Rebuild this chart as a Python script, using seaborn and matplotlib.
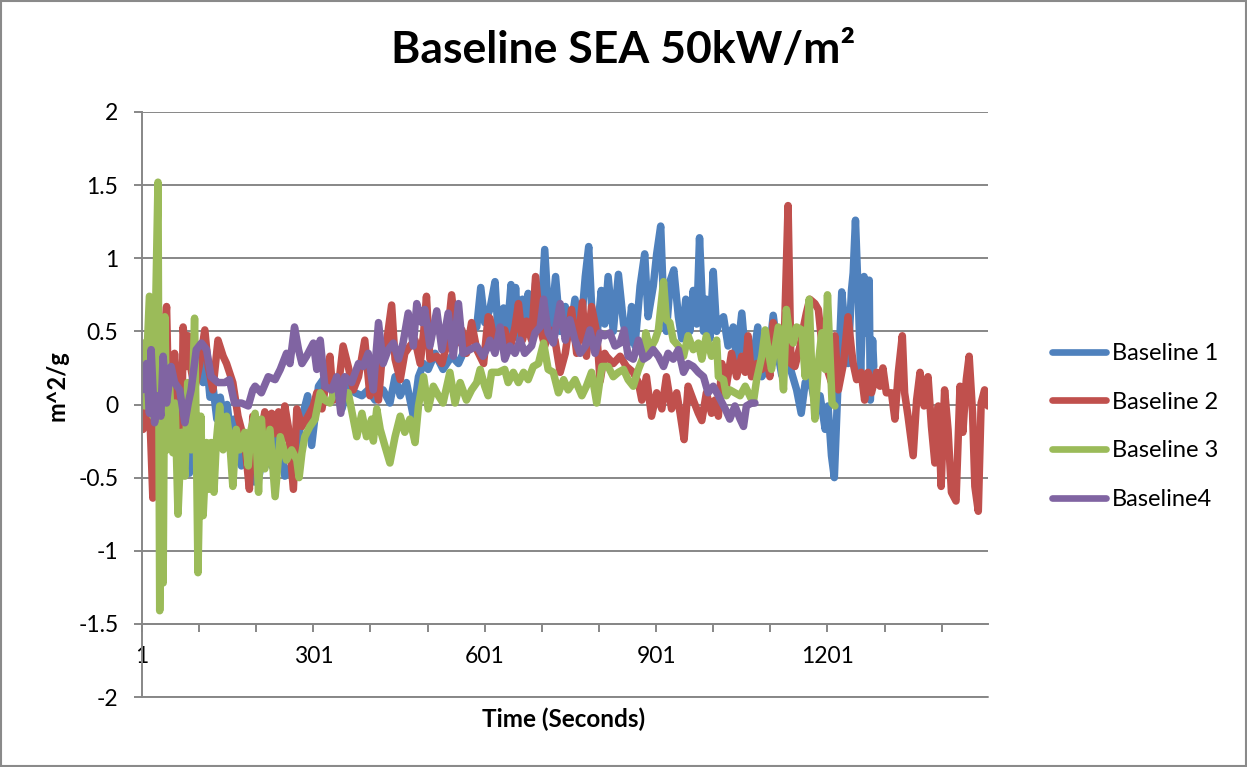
import numpy as np
import pandas as pd
import matplotlib.pyplot as plt
import seaborn as sns
from matplotlib.patches import Rectangle
from matplotlib.lines import Line2D

# series names / colours (Excel 2007 palette)
series_names = ["Baseline 1", "Baseline 2", "Baseline 3", "Baseline4"]
series_colors = ["#4F81BD", "#C0504D", "#9BBB59", "#8064A2"]

# [time (s), m^2/g], peaks and troughs
b1 = [[1, 0.05], [6, 0.25], [12, -0.05], [18, 0.2], [24, -0.15], [30, 0.1], [36, -0.3], [42, 0.15],
      [48, -0.05], [54, 0.2], [60, -0.1], [66, 0.1], [72, -0.2], [78, 0.05], [84, -0.47], [90, 0.0],
      [96, 0.2], [102, 0.3], [108, 0.15], [114, 0.3], [120, 0.05], [126, 0.1], [132, -0.1], [138, 0.05],
      [144, -0.1], [150, 0.0], [156, -0.2], [162, -0.1], [168, -0.3], [175, -0.42], [182, -0.2], [190, -0.35],
      [198, -0.53], [205, -0.51], [216, -0.28], [228, -0.42], [240, -0.1], [251, -0.49], [263, -0.42],
      [275, -0.22], [283, -0.06], [291, 0.06], [298, -0.28], [310, 0.125], [318, 0.17], [327, 0.125],
      [339, 0.08], [351, -0.03], [362, 0.125], [374, 0.08], [386, 0.06], [397, 0.1], [409, 0.03],
      [412, 0.06], [423, 0.1], [435, 0.01], [444, 0.19], [453, 0.06], [464, 0.15], [476, -0.08], [485, 0.19],
      [494, 0.28], [502, 0.24], [514, 0.35], [528, 0.24], [543, 0.33], [555, 0.28], [566, 0.375], [578, 0.51],
      [587, 0.53], [594, 0.8], [601, 0.56], [610, 0.65], [619, 0.84], [625, 0.45], [634, 0.66], [639, 0.42],
      [647, 0.82], [651, 0.5], [655, 0.8], [660, 0.45], [667, 0.72], [672, 0.48], [677, 0.76], [683, 0.45],
      [690, 0.83], [698, 0.5], [706, 1.06], [715, 0.45], [725, 0.875], [733, 0.5], [742, 0.67], [750, 0.48],
      [759, 0.72], [768, 0.45], [777, 0.875], [783, 1.08], [789, 0.6], [797, 0.45], [805, 0.78], [811, 0.55],
      [817, 0.875], [826, 0.5], [835, 0.89], [844, 0.55], [852, 0.42], [858, 0.67], [864, 0.4], [873, 0.81],
      [881, 1.03], [887, 0.6], [896, 0.81], [902, 1.03], [909, 1.22], [914, 0.7], [919, 0.5], [926, 0.85],
      [932, 0.92], [940, 0.6], [946, 0.45], [953, 0.72], [960, 0.5], [966, 0.78], [972, 0.55], [977, 1.14],
      [984, 0.5], [989, 0.72], [995, 0.45], [1001, 0.91], [1007, 0.5], [1010, 0.56], [1019, 0.6], [1027, 0.4],
      [1036, 0.53], [1042, 0.3], [1051, 0.625], [1059, 0.26], [1068, 0.24], [1079, 0.53], [1086, 0.19],
      [1097, 0.26], [1106, 0.61], [1115, 0.33], [1121, 0.2], [1129, 0.375], [1138, 0.22], [1147, 0.1],
      [1155, -0.06], [1162, 0.15], [1170, 0.19], [1179, 0.01], [1188, 0.06], [1197, -0.17], [1202, -0.01],
      [1208, -0.35], [1213, -0.5], [1219, 0.1], [1226, 0.77], [1232, 0.51], [1237, 0.28], [1243, 0.78],
      [1246, 0.9], [1250, 1.26], [1255, 0.72], [1259, 0.22], [1265, 0.875], [1269, 0.49], [1274, 0.85],
      [1276, 0.03], [1280, 0.44], [1282, 0.26]]

b2 = [[1, -0.08], [3, -0.17], [9, 0.15], [14, 0.01], [20, -0.64], [26, 0.1], [32, -0.08], [38, 0.375],
      [44, 0.67], [49, -0.24], [58, 0.35], [64, 0.01], [70, -0.42], [73, 0.53], [79, 0.26], [82, 0.47],
      [87, 0.24], [93, 0.1], [102, 0.28], [111, 0.51], [117, 0.26], [125, 0.1], [134, 0.44], [143, 0.33],
      [149, 0.28], [160, 0.15], [169, -0.08], [181, -0.26], [189, -0.58], [195, -0.08], [201, -0.42],
      [210, -0.19], [216, -0.05], [222, -0.25], [228, -0.06], [234, -0.2], [240, -0.05], [246, -0.25],
      [251, -0.01], [257, -0.15], [266, -0.58], [272, -0.03], [281, -0.15], [289, -0.1], [301, -0.01],
      [307, 0.08], [316, -0.03], [324, 0.17], [330, 0.33], [336, 0.03], [345, 0.125], [353, 0.4], [362, 0.26],
      [371, 0.1], [380, 0.19], [391, 0.44], [400, 0.06], [406, 0.24], [412, 0.1], [415, 0.03], [421, 0.31],
      [429, 0.42], [438, 0.68], [444, 0.31], [453, 0.17], [461, 0.35], [470, 0.4], [479, 0.44], [488, 0.28],
      [494, 0.49], [499, 0.74], [505, 0.31], [517, 0.33], [526, 0.28], [534, 0.4], [543, 0.75], [552, 0.42],
      [561, 0.51], [569, 0.35], [578, 0.56], [587, 0.375], [599, 0.28], [607, 0.6], [610, 0.59], [619, 0.4],
      [628, 0.49], [636, 0.51], [645, 0.375], [654, 0.53], [660, 0.69], [667, 0.44], [674, 0.57], [683, 0.44],
      [690, 0.875], [698, 0.53], [706, 0.4], [715, 0.51], [724, 0.44], [733, 0.22], [742, 0.35], [753, 0.65],
      [762, 0.35], [772, 0.7], [779, 0.33], [788, 0.67], [797, 0.49], [803, 0.16], [811, 0.35], [814, 0.33],
      [826, 0.28], [838, 0.33], [849, 0.26], [861, 0.22], [870, 0.15], [876, 0.03], [884, 0.19], [893, -0.08],
      [902, 0.08], [911, -0.03], [919, 0.19], [928, -0.03], [937, 0.08], [943, -0.06], [950, -0.24],
      [957, 0.125], [966, 0.03], [975, -0.06], [981, -0.11], [989, 0.08], [998, -0.06], [1004, 0.03],
      [1010, -0.08], [1016, 0.28], [1024, 0.125], [1033, 0.35], [1042, 0.19], [1051, 0.33], [1057, 0.22],
      [1062, 0.47], [1068, 0.19], [1077, 0.28], [1086, 0.24], [1094, 0.375], [1100, 0.19], [1106, 0.56],
      [1115, 0.4], [1124, 0.26], [1132, 1.36], [1137, 0.28], [1144, 0.26], [1153, 0.4], [1159, 0.53],
      [1164, 0.625], [1170, 0.72], [1179, 0.69], [1185, 0.65], [1191, 0.42], [1199, 0.26], [1208, 0.15],
      [1214, 0.47], [1220, 0.1], [1229, 0.28], [1237, 0.6], [1243, 0.375], [1246, 0.28], [1252, 0.17],
      [1260, 0.22], [1266, 0.03], [1272, 0.22], [1278, 0.08], [1287, 0.22], [1293, 0.125], [1298, 0.25],
      [1304, 0.08], [1313, 0.08], [1319, -0.1], [1325, 0.22], [1332, 0.47], [1336, 0.08], [1342, -0.08],
      [1351, -0.35], [1357, 0.03], [1363, 0.22], [1370, -0.01], [1377, 0.19], [1383, -0.15], [1389, -0.4],
      [1395, -0.01], [1400, -0.56], [1406, 0.1], [1412, -0.17], [1418, -0.6], [1426, -0.66], [1433, 0.125],
      [1438, -0.19], [1444, 0.17], [1449, 0.33], [1455, -0.06], [1459, -0.56], [1465, -0.73], [1470, 0.01],
      [1476, 0.1], [1482, -0.01]]

b3 = [[1, 0.15], [3, 0.42], [6, -0.01], [14, 0.74], [20, -0.08], [24, 0.47], [29, 1.52], [32, -1.41],
      [36, 0.15], [38, -1.22], [41, 0.6], [45, -0.31], [49, 0.15], [55, -0.33], [59, 0.01], [64, -0.75],
      [70, -0.19], [76, -0.49], [81, 0.15], [87, -0.31], [93, 0.59], [96, -0.19], [99, -1.15], [104, -0.08],
      [108, -0.76], [114, -0.26], [118, -0.58], [122, -0.26], [127, -0.6], [131, -0.26], [137, -0.01],
      [143, -0.31], [149, -0.08], [154, -0.22], [160, -0.56], [166, -0.17], [172, -0.31], [181, -0.19],
      [187, -0.42], [192, -0.17], [199, -0.06], [205, -0.6], [210, -0.1], [216, -0.44], [225, -0.17],
      [234, -0.63], [243, -0.22], [254, -0.38], [263, -0.31], [272, -0.38], [276, -0.5], [281, -0.33],
      [286, -0.22], [295, -0.15], [304, -0.1], [313, 0.08], [321, 0.03], [330, 0.01], [339, 0.1], [351, 0.08],
      [362, 0.08], [371, -0.1], [377, -0.22], [386, -0.06], [394, -0.22], [403, -0.1], [406, -0.25],
      [412, -0.03], [418, -0.17], [426, -0.28], [435, -0.4], [444, -0.22], [453, -0.08], [461, -0.19],
      [470, -0.1], [479, -0.26], [485, -0.01], [494, 0.19], [502, -0.03], [511, 0.125], [520, 0.06],
      [528, 0.01], [540, 0.22], [549, 0.01], [558, 0.15], [569, 0.03], [578, 0.1], [587, 0.15], [593, 0.24],
      [601, 0.125], [607, 0.06], [613, 0.22], [625, 0.22], [636, 0.24], [642, 0.15], [651, 0.22], [660, 0.15],
      [669, 0.22], [677, 0.17], [686, 0.26], [695, 0.28], [704, 0.42], [712, 0.24], [721, 0.22], [730, 0.08],
      [739, 0.17], [747, 0.1], [759, 0.17], [771, 0.06], [779, 0.125], [788, 0.22], [797, 0.01], [806, 0.26],
      [817, 0.26], [826, 0.19], [835, 0.22], [844, 0.24], [852, 0.17], [861, 0.125], [870, 0.24], [879, 0.33],
      [883, 0.49], [890, 0.375], [899, 0.44], [905, 0.51], [914, 0.84], [919, 0.58], [925, 0.56], [931, 0.44],
      [940, 0.4], [949, 0.33], [957, 0.47], [966, 0.375], [975, 0.42], [981, 0.31], [989, 0.47], [998, 0.33],
      [1007, 0.44], [1010, 0.19], [1019, 0.17], [1024, 0.06], [1030, 0.1], [1039, 0.08], [1048, 0.06],
      [1057, 0.125], [1065, 0.06], [1071, 0.01], [1077, 0.17], [1086, 0.33], [1092, 0.51], [1097, 0.375],
      [1103, 0.24], [1115, 0.53], [1124, 0.1], [1129, 0.65], [1135, 0.47], [1141, 0.42], [1147, 0.53],
      [1156, 0.51], [1162, 0.19], [1169, 0.72], [1173, 0.28], [1179, -0.1], [1185, 0.28], [1191, 0.49],
      [1197, 0.24], [1201, 0.75], [1205, 0.375], [1209, 0.01], [1214, -0.01]]

b4 = [[1, 0.1], [3, 0.19], [9, 0.28], [14, -0.06], [17, 0.375], [23, -0.125], [29, 0.06], [34, -0.08],
      [38, 0.33], [44, 0.01], [52, 0.26], [58, 0.15], [67, 0.1], [76, -0.125], [82, 0.01], [87, 0.1],
      [96, 0.375], [105, 0.42], [114, 0.375], [122, 0.19], [134, 0.15], [146, 0.15], [154, 0.17], [163, 0.01],
      [175, 0.01], [187, -0.01], [195, 0.1], [199, 0.125], [210, 0.08], [222, 0.19], [234, 0.17], [243, 0.24],
      [254, 0.35], [260, 0.28], [268, 0.53], [275, 0.375], [281, 0.28], [289, 0.33], [301, 0.42], [307, 0.24],
      [313, 0.44], [321, 0.125], [333, 0.1], [342, 0.19], [349, -0.06], [356, 0.19], [368, 0.15], [380, 0.28],
      [388, 0.26], [397, 0.35], [406, 0.1], [409, 0.26], [415, 0.56], [423, 0.28], [432, 0.375], [441, 0.42],
      [450, 0.31], [458, 0.42], [467, 0.625], [476, 0.4], [482, 0.69], [491, 0.56], [496, 0.65], [505, 0.4],
      [517, 0.64], [526, 0.375], [537, 0.625], [546, 0.33], [555, 0.69], [563, 0.35], [575, 0.375], [587, 0.4],
      [598, 0.33], [607, 0.4], [610, 0.44], [619, 0.35], [628, 0.53], [636, 0.31], [645, 0.4], [654, 0.35],
      [663, 0.44], [671, 0.35], [683, 0.4], [689, 0.49], [698, 0.53], [704, 0.72], [712, 0.49], [721, 0.42],
      [733, 0.69], [742, 0.44], [750, 0.58], [759, 0.44], [768, 0.35], [777, 0.4], [785, 0.51], [794, 0.35],
      [803, 0.49], [811, 0.47], [820, 0.49], [829, 0.4], [838, 0.42], [845, 0.51], [852, 0.33], [861, 0.31],
      [870, 0.44], [879, 0.31], [887, 0.33], [896, 0.375], [905, 0.33], [914, 0.26], [922, 0.35], [931, 0.31],
      [940, 0.375], [949, 0.22], [957, 0.28], [966, 0.26], [975, 0.22], [984, 0.19], [992, 0.08], [1001, 0.125],
      [1010, 0.06], [1022, -0.03], [1030, -0.1], [1039, -0.01], [1048, -0.1], [1054, -0.15], [1059, -0.01],
      [1068, 0.01], [1074, 0.01]]

y_ticks = [-2, -1.5, -1, -0.5, 0, 0.5, 1, 1.5, 2]
y_tick_labels = ["-2", "-1.5", "-1", "-0.5", "0", "0.5", "1", "1.5", "2"]
x_ticks = [1, 101, 201, 301, 401, 501, 601, 701, 801, 901, 1001, 1101, 1201, 1301, 1401]
x_tick_labels = ["1", "", "", "301", "", "", "601", "", "", "901", "", "", "1201", "", ""]

frames = []
for name, pts in zip(series_names, [b1, b2, b3, b4]):
    d = pd.DataFrame(pts, columns=["t", "v"])
    d["series"] = name
    frames.append(d)
df = pd.concat(frames, ignore_index=True)

sns.set_style("white")
plt.rcParams["font.family"] = ["Lato", "DejaVu Sans"]
plt.rcParams["text.color"] = "black"

W, H = 1247, 767
fig = plt.figure(figsize=(W / 100, H / 100), dpi=100)
ax = fig.add_axes([142 / W, 1 - 697 / H, (988 - 142) / W, (697 - 112) / H])

grid_c = "#878787"
lw = 5.4
sns.lineplot(data=df, x="t", y="v", hue="series", hue_order=series_names,
             palette=series_colors, estimator=None, sort=False, linewidth=lw,
             solid_joinstyle="round", solid_capstyle="round", legend=False, ax=ax)

ax.set_xlim(1, b2[-1][0])
ax.set_ylim(-2, 2)
ax.set_yticks(y_ticks)
ax.set_yticklabels(y_tick_labels)
ax.set_xticks(x_ticks)
ax.set_xticklabels(x_tick_labels)
ax.set_xlabel("")
ax.set_ylabel("")
ax.yaxis.grid(True, color=grid_c, linewidth=1.4)
ax.xaxis.grid(False)
ax.set_axisbelow(True)
# gridline at -2 sits on the edge of the axes
ax.axhline(-2, color=grid_c, linewidth=1.4, clip_on=False, zorder=0.5)
for s in ["top", "right"]:
    ax.spines[s].set_visible(False)
ax.spines["left"].set_color(grid_c)
ax.spines["left"].set_linewidth(1.4)
ax.spines["bottom"].set_color(grid_c)
ax.spines["bottom"].set_linewidth(1.4)
ax.spines["bottom"].set_position(("data", -1.5))
ax.tick_params(axis="y", direction="out", length=6, width=1.4, color=grid_c,
               pad=11, labelsize=16.5, labelcolor="black", left=True)
ax.tick_params(axis="x", direction="out", length=6, width=1.4, color=grid_c,
               pad=10, labelsize=16.5, labelcolor="black", bottom=True)

fig.text(0.5, 1 - 50 / H, "Baseline SEA 50kW/m²", ha="center", va="center",
         fontsize=32, fontweight="bold", color="black")
fig.text(57 / W, 1 - 386 / H, "m^2/g", rotation=90, ha="center", va="center",
         fontsize=17, fontweight="bold", color="black")
fig.text(564 / W, 1 - 719 / H, "Time (Seconds)", ha="center", va="center",
         fontsize=17.5, fontweight="bold", color="black")

handles = [Line2D([0], [0], color=c, linewidth=4.8, solid_capstyle="round") for c in series_colors]
fig.legend(handles, series_names, loc="upper left", bbox_to_anchor=(1052 / W, 1 - 343 / H),
           frameon=False, fontsize=17, handlelength=2.3, handletextpad=0.25,
           labelspacing=1.17, borderpad=0, borderaxespad=0)

fig.patches.append(Rectangle((0.001, 0.001), 0.998, 0.998, transform=fig.transFigure,
                             fill=False, edgecolor="#8a8a8a", linewidth=1.5))

fig.savefig("out.png", dpi=100)
